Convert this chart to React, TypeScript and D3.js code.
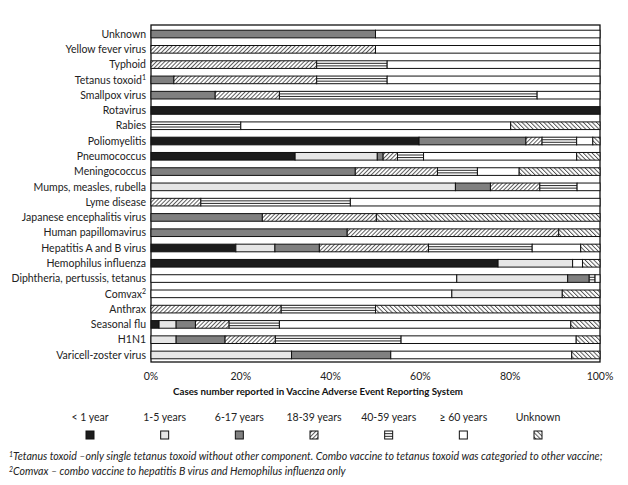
import React from "react";
import * as d3 from "d3";

const categories = [
  "Unknown", "Yellow fever virus", "Typhoid", "Tetanus toxoid", "Smallpox virus", "Rotavirus",
  "Rabies", "Poliomyelitis", "Pneumococcus", "Meningococcus", "Mumps, measles, rubella",
  "Lyme disease", "Japanese encephalitis virus", "Human papillomavirus", "Hepatitis A and B virus",
  "Hemophilus influenza", "Diphtheria, pertussis, tetanus", "Comvax", "Anthrax", "Seasonal flu",
  "H1N1", "Varicell-zoster virus",
];
const superscripts: Record<string, string> = { "Tetanus toxoid": "1", Comvax: "2" };

const legendLabels = ["< 1 year", "1-5 years", "6-17 years", "18-39 years", "40-59 years", "≥ 60 years", "Unknown"];

// unassigned share drawn first (white, not in legend)
const unassigned = [0, 0, 0, 0, 0, 0, 0, 0, 0, 0, 0, 0, 0, 0, 0, 0, 68.1, 67.0, 0, 0, 0, 0];
const under1 = [0, 0, 0, 0, 0, 100, 0, 59.7, 32.1, 0, 0, 0, 0, 0, 18.9, 77.3, 0, 0, 0, 1.8, 0, 0];
const age1to5 = [0, 0, 0, 0, 0, 0, 0, 0, 18.3, 0, 67.8, 0, 0, 0, 8.7, 16.6, 24.7, 24.6, 0, 3.8, 5.6, 31.3];
const age6to17 = [50, 0, 0, 5.1, 14.3, 0, 0, 23.8, 1.3, 45.5, 7.8, 0, 24.8, 43.7, 9.9, 0, 4.8, 0, 0, 4.3, 10.9, 22.1];
const age18to39 = [0, 50, 36.9, 31.8, 14.3, 0, 0, 3.6, 3.2, 18.3, 11.0, 11.1, 25.4, 47.1, 24.3, 0, 0, 0, 29.0, 7.5, 11.2, 0];
const age40to59 = [0, 0, 15.7, 15.7, 57.4, 0, 20.0, 7.7, 5.8, 8.9, 8.3, 33.3, 0, 0, 23.1, 0, 1.3, 0, 21.0, 11.2, 28.0, 0];
const age60plus = [50, 50, 47.4, 47.4, 14.0, 0, 60.1, 3.6, 34.1, 9.3, 5.1, 55.6, 0, 0, 10.8, 2.2, 1.1, 0, 0, 64.9, 39.0, 40.3];
const ageUnknown = [0, 0, 0, 0, 0, 0, 19.9, 1.6, 5.2, 18.0, 0, 0, 49.8, 9.2, 4.3, 3.9, 0, 8.4, 50.0, 6.5, 5.3, 6.3];

const xTicks = [0, 20, 40, 60, 80, 100];
const axisTitle = "Cases number reported in Vaccine Adverse Event Reporting System";
const footnote1 = "Tetanus toxoid –only single tetanus toxoid without other component. Combo vaccine to tetanus toxoid was categoried to other vaccine;";
const footnote2 = "Comvax – combo vaccine to hepatitis B virus and Hemophilus influenza only";

const keys = ["na", "lt1", "a1", "a6", "a18", "a40", "a60", "unk"];
const seriesArrays = [unassigned, under1, age1to5, age6to17, age18to39, age40to59, age60plus, ageUnknown];
const fills: Record<string, string> = {
  na: "#ffffff", lt1: "#1c1c1c", a1: "#e6e6e6", a6: "#808080", a18: "url(#fwd)", a40: "#ffffff", a60: "#ffffff", unk: "url(#bwd)",
};
const legendKeys = ["lt1", "a1", "a6", "a18", "a40", "a60", "unk"];

const FONT = "Lato, 'Open Sans', sans-serif";

export default function App() {
  const W = 628, H = 485;
  const x = d3.scaleLinear().domain([0, 100]).range([151, 600]);
  const y = d3.scaleBand<string>().domain(categories).range([26.4, 362.6]).paddingInner(0.5).paddingOuter(0.25);
  const table = categories.map((c, i) => {
    const row: any = { cat: c };
    keys.forEach((k, j) => (row[k] = seriesArrays[j][i]));
    return row;
  });
  const stacked = d3.stack<any>().keys(keys)(table);
  const bh = y.bandwidth();
  const lx = d3.scalePoint<string>().domain(legendKeys).range([90, 538]);

  return (
    <svg width={W} height={H} style={{ position: "absolute", left: 0, top: 0, background: "#fff" }} fontFamily={FONT}>
      <defs>
        <pattern id="fwd" width="2.9" height="10" patternUnits="userSpaceOnUse" patternTransform="rotate(45)">
          <rect width="2.9" height="10" fill="#fff" />
          <line x1="0.5" y1="0" x2="0.5" y2="10" stroke="#333" strokeWidth="0.8" />
        </pattern>
        <pattern id="bwd" width="3.1" height="10" patternUnits="userSpaceOnUse" patternTransform="rotate(-45)">
          <rect width="3.1" height="10" fill="#fff" />
          <line x1="0.5" y1="0" x2="0.5" y2="10" stroke="#333" strokeWidth="0.8" />
        </pattern>
      </defs>
      <rect x={x(0)} y={25} width={x(100) - x(0)} height={337} fill="none" stroke="#111" strokeWidth={1.3} />
      {stacked.map((s) => (
        <g key={s.key}>
          {s.map((d, i) => {
            const w = x(d[1]) - x(d[0]);
            if (w <= 0.01) return null;
            const yy = y(categories[i])!;
            return (
              <g key={i}>
                <rect x={x(d[0])} y={yy} width={w} height={bh} fill={fills[s.key]} stroke="#111" strokeWidth={1} />
                {s.key === "a40" && [1 / 3, 2 / 3].map((f) => (
                  <line key={f} x1={x(d[0])} x2={x(d[1])} y1={yy + bh * f} y2={yy + bh * f} stroke="#111" strokeWidth={0.9} />
                ))}
              </g>
            );
          })}
        </g>
      ))}
      {categories.map((c) => (
        <text key={c} x={146} y={y(c)! + bh / 2} dy="0.35em" textAnchor="end" fontSize={10.5} fill="#222">
          {c}
          {superscripts[c] && <tspan fontSize={7} dy="-4">{superscripts[c]}</tspan>}
        </text>
      ))}
      {xTicks.map((t) => (
        <text key={t} x={x(t)} y={380} textAnchor="middle" fontSize={10.5} fill="#222">{t}%</text>
      ))}
      <text x={173} y={395} fontSize={9.5} fontWeight="bold" fill="#111" textLength={290} lengthAdjust="spacingAndGlyphs">{axisTitle}</text>
      {legendKeys.map((k, i) => {
        const cx = lx(k)!;
        return (
          <g key={k}>
            <text x={cx} y={421} textAnchor="middle" fontSize={10.5} fill="#222">{legendLabels[i]}</text>
            <rect x={cx - 4} y={431} width={8} height={8} fill={fills[k]} stroke="#111" strokeWidth={1} />
            {k === "a40" && [1 / 3, 2 / 3].map((f) => (
              <line key={f} x1={cx - 4} x2={cx + 4} y1={431 + 8 * f} y2={431 + 8 * f} stroke="#111" strokeWidth={0.9} />
            ))}
          </g>
        );
      })}
      <text x={9} y={460} fontSize={10.6} fontStyle="italic" fill="#222">
        <tspan fontSize={7} dy="-3">1</tspan><tspan dy="3">{footnote1}</tspan>
      </text>
      <text x={9} y={475} fontSize={10.6} fontStyle="italic" fill="#222">
        <tspan fontSize={7} dy="-3">2</tspan><tspan dy="3">{footnote2}</tspan>
      </text>
    </svg>
  );
}
